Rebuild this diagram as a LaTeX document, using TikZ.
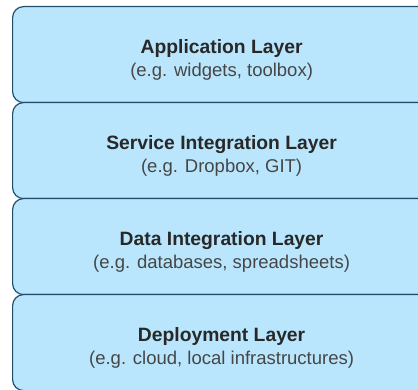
\documentclass[tikz,border=0pt]{standalone}
\usepackage{fontspec}
\setmainfont{Liberation Sans}
\definecolor{layerfill}{RGB}{186,230,253}
\definecolor{layerdraw}{RGB}{30,80,110}
\definecolor{layertext}{RGB}{40,40,40}
\definecolor{subtext}{RGB}{70,70,70}
\tikzset{
  layer/.style={draw=layerdraw, line width=1.2pt, fill=layerfill, rounded corners=11pt,
    minimum width=418pt, minimum height=96pt, inner sep=0pt, anchor=north west,
    align=center, text=layertext}
}
\newcommand{\layertext}[2]{\rule{0pt}{25pt}{\fontsize{19.3}{25}\selectfont\bfseries #1}\\[5pt]{\fontsize{18.5}{25}\selectfont\color{subtext}#2}}
\begin{document}
\begin{tikzpicture}[x=1pt,y=-1pt]
\useasboundingbox (0,0) rectangle (418,390);
\clip (0,0) rectangle (418,390);
\node[layer] (app) at (12,6) {\layertext{Application Layer}{(e.g. widgets, toolbox)}};
\node[layer] (svc) at (12,102) {\layertext{Service Integration Layer}{(e.g. Dropbox, GIT)}};
\node[layer] (dat) at (12,198) {\layertext{Data Integration Layer}{(e.g. databases, spreadsheets)}};
\node[layer] (dep) at (12,294) {\layertext{Deployment Layer}{(e.g. cloud, local infrastructures)}};
\end{tikzpicture}
\end{document}
